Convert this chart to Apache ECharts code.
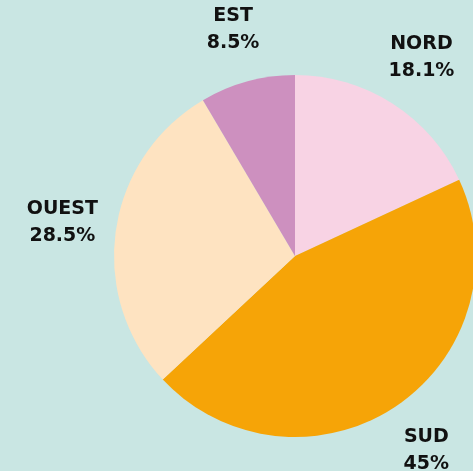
<!DOCTYPE html>
<html>
<head>
<meta charset="utf-8">
<script src="https://cdn.jsdelivr.net/npm/echarts@6/dist/echarts.min.js"></script>
<style>
html,body{margin:0;padding:0;background:#c9e6e3;}
#chart{width:473px;height:471px;}
</style>
</head>
<body>
<div id="chart"></div>
<script>
const categories = ['NORD', 'SUD', 'OUEST', 'EST'];
const values = [18.1, 45, 28.5, 8.5];
const colors = ['#f8d3e4', '#f6a407', '#fee3c1', '#cd90bf'];

const data = categories.map((c, i) => ({ name: c, value: values[i], itemStyle: { color: colors[i] } }));
const labelData = categories.map((c, i) => ({ name: c, value: values[i] }));

const chart = echarts.init(document.getElementById('chart'));
chart.setOption({
  backgroundColor: '#c9e6e3',
  animation: false,
  series: [
    {
      type: 'pie',
      center: [295, 256],
      radius: [0, 181],
      startAngle: 90,
      clockwise: true,
      silent: true,
      avoidLabelOverlap: false,
      label: { show: false },
      labelLine: { show: false },
      itemStyle: { borderWidth: 0 },
      data: data
    },
    {
      type: 'pie',
      center: [295, 256],
      radius: [200, 264],
      startAngle: 90,
      clockwise: true,
      silent: true,
      avoidLabelOverlap: false,
      itemStyle: { color: 'rgba(0,0,0,0)', borderWidth: 0 },
      label: {
        show: true,
        position: 'inside',
        formatter: p => p.name + '\n' + p.value + '%',
        fontFamily: 'DejaVu Sans',
        fontWeight: 'bold',
        fontSize: 19,
        lineHeight: 27,
        color: '#111111',
        align: 'center'
      },
      labelLine: { show: false },
      data: labelData
    }
  ]
});
</script>
</body>
</html>
